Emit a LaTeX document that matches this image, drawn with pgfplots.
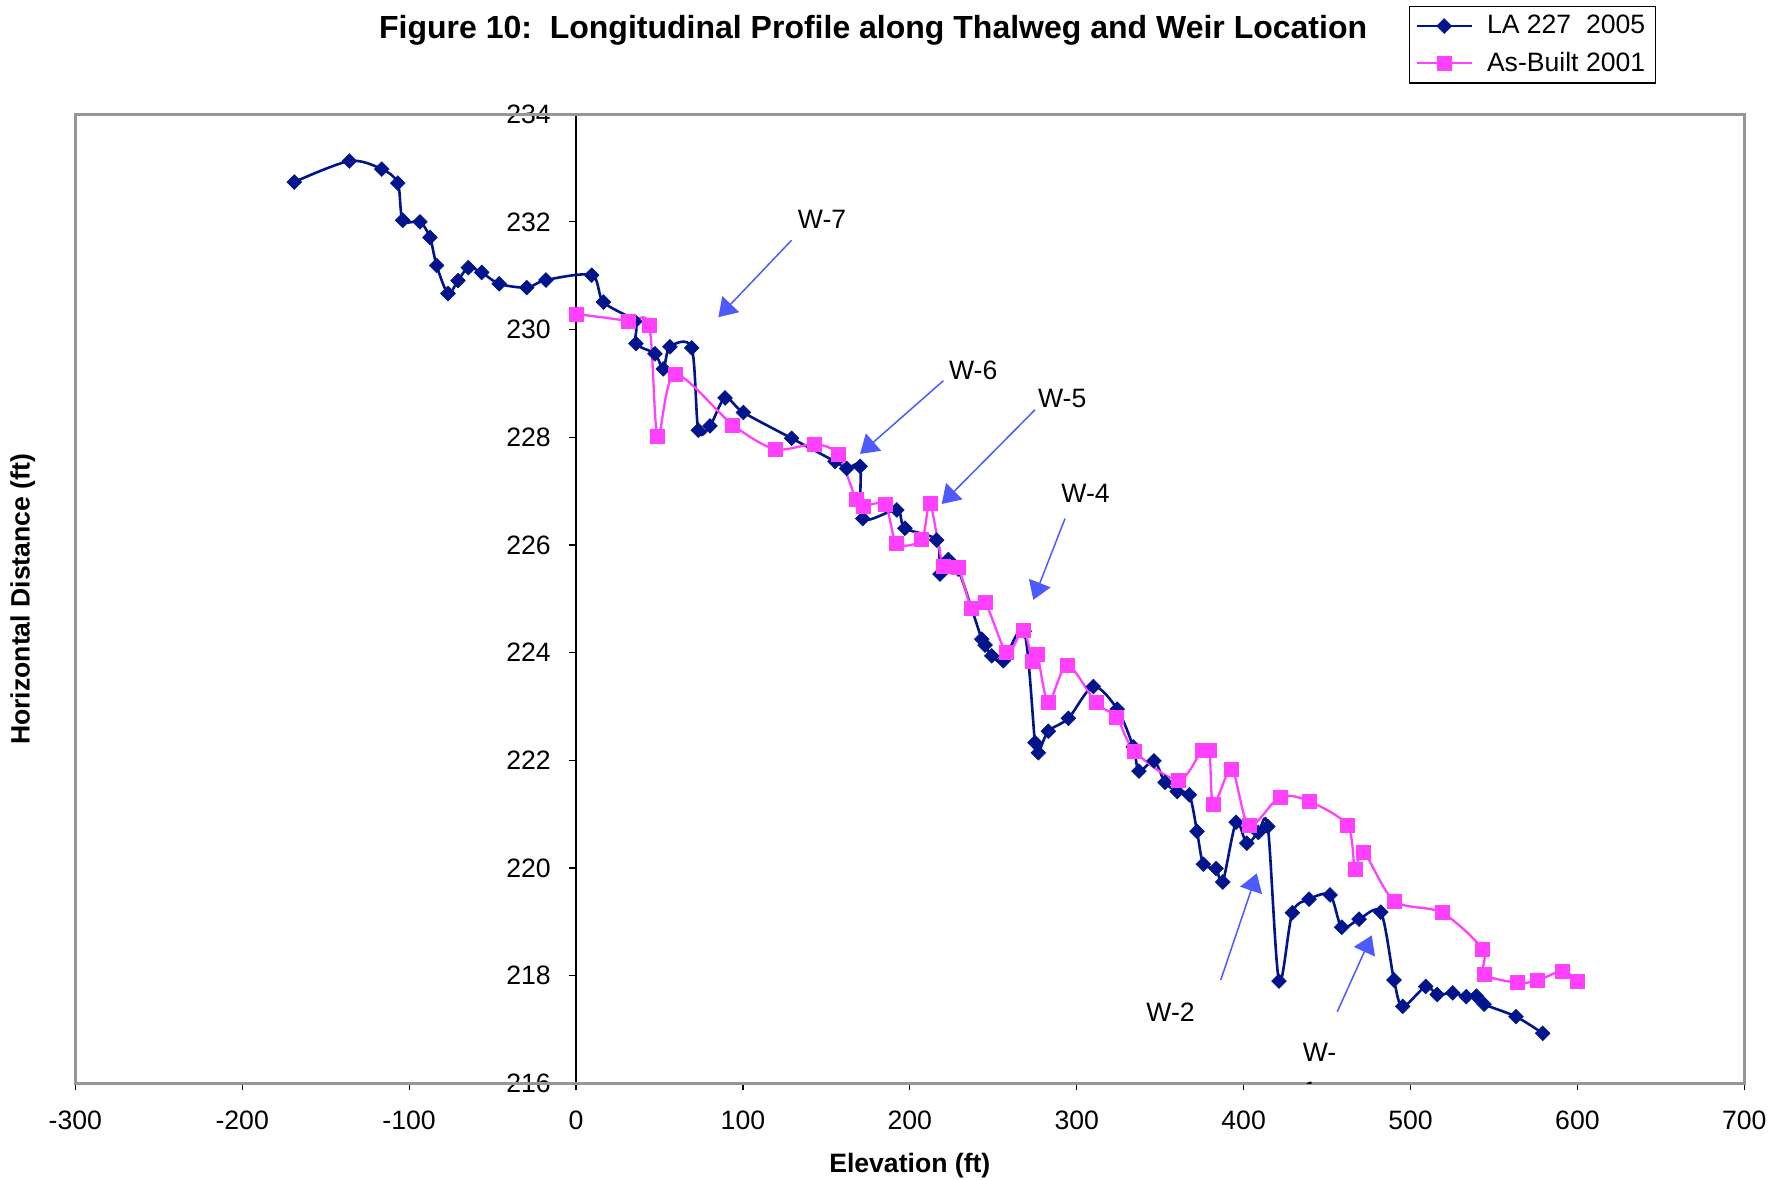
\documentclass[border=0pt]{standalone}
\usepackage{fontspec}
\setmainfont{Liberation Sans}
\usepackage{pgfplots}
\pgfplotsset{compat=1.18}
\usetikzlibrary{arrows.meta,calc}

\definecolor{surveyblue}{RGB}{0,20,140}
\definecolor{asbuiltpink}{RGB}{255,64,255}
\definecolor{weirarrow}{RGB}{77,90,255}
\definecolor{framegray}{RGB}{150,150,150}

\newcommand{\chartfont}{\fontsize{13.3}{16}\selectfont}

% LA 227 survey, 2005
\pgfplotstableread{
x y
-168.8 232.74
-135.8 233.13
-116.4 232.98
-106.8 232.72
-103.8 232.03
-93.5 232.00
-87.5 231.71
-83.5 231.19
-76.7 230.67
-70.7 230.91
-64.5 231.15
-56.5 231.06
-46.0 230.85
-29.5 230.78
-18.0 230.92
9.4 231.01
16.4 230.51
35.2 230.15
35.9 229.74
47.3 229.55
52.3 229.27
56.3 229.68
69.3 229.66
73.3 228.13
80.3 228.21
89.3 228.73
100.3 228.46
129.2 227.98
155.2 227.55
162.2 227.42
170.2 227.46
171.8 226.49
192.2 226.65
197.1 226.31
216.1 226.09
218.1 225.46
223.1 225.73
229.0 225.55
243.1 224.25
245.1 224.14
249.1 223.94
256.0 223.85
268.5 224.40
275.0 222.33
277.0 222.14
283.0 222.54
295.0 222.78
310.0 223.37
324.3 222.95
333.9 222.25
337.3 221.80
346.3 221.99
352.9 221.59
360.2 221.42
367.5 221.36
372.1 220.68
375.9 220.07
383.5 219.99
387.5 219.74
395.5 220.85
401.9 220.46
408.8 220.66
414.5 220.77
421.2 217.90
429.2 219.17
439.2 219.42
451.8 219.50
458.8 218.90
469.2 219.05
482.2 219.18
490.1 217.92
495.3 217.43
509.1 217.80
516.0 217.65
525.3 217.68
533.4 217.61
539.5 217.62
544.1 217.47
563.2 217.24
579.2 216.93
}\surveytable

% As-built profile, 2001
\pgfplotstableread{
x y
0.0 230.29
31.2 230.16
43.8 230.08
48.9 228.01
59.3 229.17
93.9 228.23
119.2 227.78
143.0 227.87
156.9 227.68
167.8 226.85
172.2 226.72
185.2 226.75
192.2 226.03
207.1 226.10
212.1 226.77
220.1 225.61
228.8 225.58
237.1 224.83
245.1 224.93
258.1 224.00
268.0 224.42
273.6 223.83
276.4 223.97
283.0 223.08
294.4 223.77
311.6 223.07
324.0 222.79
334.6 222.17
360.9 221.63
375.1 222.19
379.5 222.19
381.9 221.18
392.9 221.83
403.2 220.79
421.8 221.32
439.2 221.24
462.2 220.79
466.8 219.97
471.9 220.30
490.2 219.39
518.9 219.17
543.3 218.49
544.1 218.03
564.1 217.87
576.1 217.91
591.1 218.09
600.1 217.90
}\asbuilttable

\begin{document}
\begin{tikzpicture}
\begin{axis}[
  scale only axis,
  width=834.5pt, height=484.6pt,
  xmin=-300, xmax=700, ymin=216, ymax=234,
  xtick distance=100, ytick distance=2,
  axis x line=bottom, axis y line=middle,
  axis line style={-},
  x axis line style={draw=none},
  y axis line style={black, line width=0.6pt},
  hide obscured x ticks=false, hide obscured y ticks=false,
  tick align=outside,
  major tick length=3.5pt,
  tick style={black, line width=0.6pt},
  /pgf/number format/assume math mode=true,
  ticklabel style={font=\chartfont},
  xticklabel style={anchor=north, yshift=-6.8pt},
  yticklabel style={anchor=east, xshift=-5.6pt},
  clip=false,
  legend style={at={(axis description cs:0.947,1.112)}, anchor=north east,
    draw=black, line width=0.6pt, fill=white, font=\chartfont,
    inner xsep=3pt, inner ysep=2.5pt, row sep=3.5pt, column sep=5pt},
  legend cell align=left,
  legend image code/.code={\draw[mark repeat=2,mark phase=2,#1]
    plot coordinates {(0pt,0pt) (13.75pt,0pt) (27.5pt,0pt)};},
]
\addplot[surveyblue, line width=1.3pt, smooth, tension=0.5,
  mark=square*, mark size=2.6pt,
  mark options={solid, rotate=45, fill=surveyblue, draw=surveyblue, line width=0.3pt}]
  table {\surveytable};
\addlegendentry{LA 227~~2005}
\addplot[asbuiltpink, line width=1.15pt, smooth, tension=0.5,
  mark=square*, mark size=3.5pt,
  mark options={solid, fill=asbuiltpink, draw=asbuiltpink, line width=0.3pt}]
  table {\asbuilttable};
\addlegendentry{As-Built 2001}

% plot area frame
\draw[framegray, line width=1.5pt] (rel axis cs:0,0) rectangle (rel axis cs:1,1);

% weir markers
\begin{scope}[weirarrow, line width=0.75pt, -{Triangle[length=9pt,width=11.5pt]}]
  \draw (axis cs:129.2,231.66) -- (axis cs:85.3,230.23);
  \draw (axis cs:220.1,229.05) -- (axis cs:170.2,227.69);
  \draw (axis cs:275.0,228.51) -- (axis cs:219.1,226.76);
  \draw (axis cs:293.0,226.49) -- (axis cs:274.0,224.98);
  \draw (axis cs:386.3,217.92) -- (axis cs:407.9,219.90);
  \draw (axis cs:456.1,217.33) -- (axis cs:476.8,218.75);
\end{scope}
\begin{scope}[font=\chartfont, inner sep=0pt]
  \node at (axis cs:147.4,232.04) {W-7};
  \node at (axis cs:238.0,229.25) {W-6};
  \node at (axis cs:291.3,228.72) {W-5};
  \node at (axis cs:305.3,226.96) {W-4};
  \node at (axis cs:356.2,217.33) {W-2};
  \node at (axis cs:445.5,216.57) {W-};
\end{scope}
\begin{scope}
  \clip (rel axis cs:0,0) rectangle (rel axis cs:1,1);
  \node[font=\chartfont, inner sep=0pt] at (axis cs:439.8,215.86) {1};
\end{scope}

% title and axis titles
\node[font=\fontsize{16}{19}\selectfont\bfseries] at (axis cs:178,235.55)
  {Figure 10:~~Longitudinal Profile along Thalweg and Weir Location};
\node[font=\chartfont\bfseries] at (axis cs:200,214.48) {Elevation (ft)};
\node[font=\chartfont\bfseries, rotate=90] at (axis cs:-331.5,224.99)
  {Horizontal Distance (ft)};

\coordinate (fsw) at (rel axis cs:0,0);
\coordinate (fne) at (rel axis cs:1,1);
\end{axis}
\pgfresetboundingbox
\path ($(fsw)+(-37.65pt,-48.3pt)$) rectangle ($(fne)+(22.85pt,57.1pt)$);
\end{tikzpicture}
\end{document}
